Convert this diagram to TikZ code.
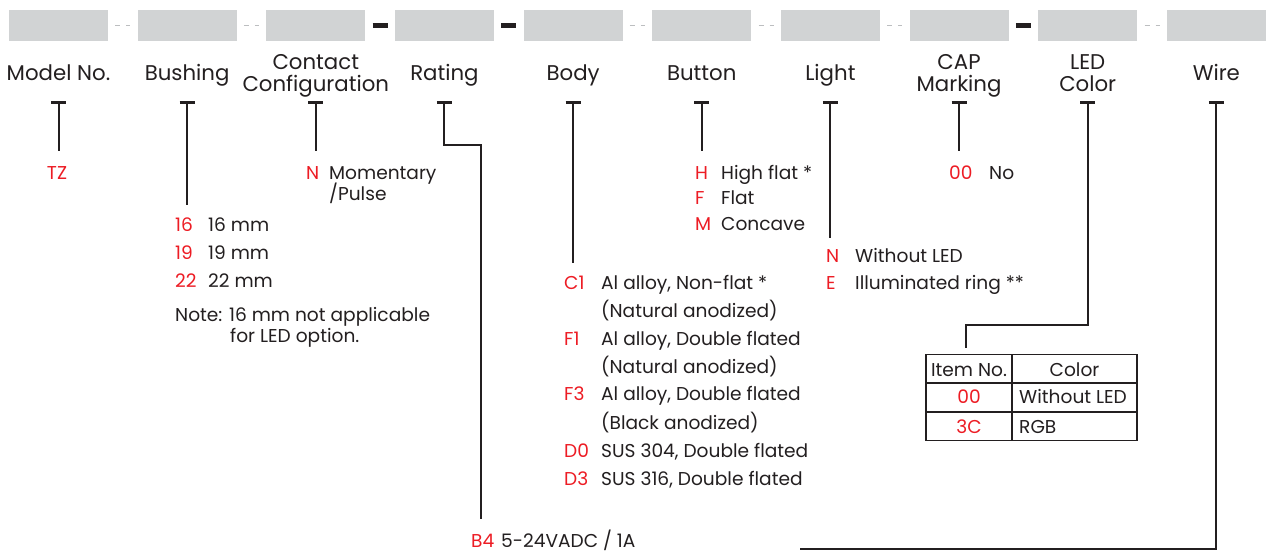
\documentclass[tikz,border=0pt]{standalone}
\usepackage{fontspec}
\setmainfont{Poppins}
\usetikzlibrary{arrows.meta,positioning,calc}
\definecolor{boxgray}{RGB}{209,211,212}
\definecolor{dashgray}{RGB}{188,190,192}
\definecolor{codered}{RGB}{237,28,36}
\definecolor{inkdark}{RGB}{35,31,32}
\newcommand{\optfont}{\fontsize{18.6}{21}\selectfont}
\tikzset{
  field/.style={fill=boxgray, draw=none, minimum width=99pt, minimum height=31pt, inner sep=0pt},
  heading/.style={font=\fontsize{21.3}{22}\selectfont, text=inkdark, align=center, inner sep=0pt, anchor=base},
  optcode/.style={font=\optfont, text=codered, anchor=base west, inner sep=0pt},
  optdesc/.style={font=\optfont, text=inkdark, anchor=base west, inner sep=0pt},
  cellmid/.style={font=\optfont, text=inkdark, anchor=base, inner sep=0pt},
  leader/.style={line width=2pt, draw=inkdark, {Bar[width=15pt,line width=3pt]}-},
  softsep/.style={draw=dashgray, line width=1.2pt, dash pattern=on 5pt off 6pt},
  hardsep/.style={draw=inkdark, line width=5pt},
}

\begin{document}
\begin{tikzpicture}[x=1pt, y=-1pt]
  \useasboundingbox[fill=white] (0,0) rectangle (1270,553);

  % code fields
  \foreach \i in {0,...,9}
    \node[field] (box\i) at ({58.5+128.65*\i}, 25.5) {};

  % separators
  \foreach \i/\kind in {0/softsep, 1/softsep, 2/hardsep, 3/hardsep, 4/softsep, 5/softsep, 6/softsep, 7/hardsep, 8/softsep}
    \draw[\kind] ({122.8+128.65*\i-7.5}, 25.5) -- ({122.8+128.65*\i+7.5}, 25.5);

  % headings
  \node[heading] (lblModel) at (58.5, 80.5) {Model No.};
  \node[heading] (lblBushing) at (187.15, 80.5) {Bushing};
  \node[heading] (lblContact) at (315.8, 92) {Contact\\Configuration};
  \node[heading] (lblRating) at (444.45, 80.5) {Rating};
  \node[heading] (lblBody) at (573.1, 80.5) {Body};
  \node[heading] (lblButton) at (701.75, 80.5) {Button};
  \node[heading] (lblLight) at (830.4, 80.5) {Light};
  \node[heading] (lblCap) at (959.05, 92) {CAP\\Marking};
  \node[heading] (lblLed) at (1087.7, 92) {LED\\Color};
  \node[heading] (lblWire) at (1216.35, 80.5) {Wire};

  % leader tops
  \foreach \n/\x in {Model/58.5, Bushing/187.15, Contact/315.8, Rating/444.45, Body/573.1, Button/701.75, Light/830.4, Cap/959.05, Led/1087.7, Wire/1216.35}
    \coordinate (tick\n) at (\x, 101);

  % Model No.
  \node[cellmid, text=codered] (optTZ) at (57, 180) {TZ};
  \coordinate (endModel) at (58.5, 151);
  \draw[leader] (tickModel) -- (endModel);

  % Bushing
  \node[optcode] (b16) at (175, 232) {16};
  \node[optdesc] at (208, 232) {16 mm};
  \node[optcode] (b19) at (175, 260) {19};
  \node[optdesc] at (208, 260) {19 mm};
  \node[optcode] (b22) at (175, 288) {22};
  \node[optdesc] at (208, 288) {22 mm};
  \node[optdesc] (note) at (175, 322) {Note: 16 mm not applicable};
  \node[optdesc] at (230, 343) {for LED option.};
  \coordinate (endBushing) at (187.15, 205);
  \draw[leader] (tickBushing) -- (endBushing);

  % Contact Configuration
  \node[optcode] (cN) at (306, 180) {N};
  \node[optdesc] at (329, 180) {Momentary};
  \node[optdesc] at (329, 201) {/Pulse};
  \coordinate (endContact) at (315.8, 151);
  \draw[leader] (tickContact) -- (endContact);

  % Rating
  \node[optcode] (rB4) at (471, 547) {B4};
  \node[optdesc] at (501, 547) {5-24VADC / 1A};
  \coordinate (bendRating) at (481, 145);
  \coordinate (endRating) at (481, 519);
  \draw[leader] (tickRating) |- (bendRating) -- (endRating);

  % Body
  \node[optcode] (bC1) at (564, 290) {C1};
  \node[optdesc] at (601, 290) {Al alloy, Non-flat *};
  \node[optdesc] at (601, 318) {(Natural anodized)};
  \node[optcode] (bF1) at (564, 346) {F1};
  \node[optdesc] at (601, 346) {Al alloy, Double flated};
  \node[optdesc] at (601, 374) {(Natural anodized)};
  \node[optcode] (bF3) at (564, 401) {F3};
  \node[optdesc] at (601, 401) {Al alloy, Double flated};
  \node[optdesc] at (601, 429) {(Black anodized)};
  \node[optcode] (bD0) at (564, 457) {D0};
  \node[optdesc] at (601, 457) {SUS 304, Double flated};
  \node[optcode] (bD3) at (564, 485) {D3};
  \node[optdesc] at (601, 485) {SUS 316, Double flated};
  \coordinate (endBody) at (573.1, 263);
  \draw[leader] (tickBody) -- (endBody);

  % Button
  \node[optcode] (tH) at (695, 180) {H};
  \node[optdesc] at (721, 180) {High flat *};
  \node[optcode] (tF) at (695, 205) {F};
  \node[optdesc] at (721, 205) {Flat};
  \node[optcode] (tM) at (695, 231) {M};
  \node[optdesc] at (721, 231) {Concave};
  \coordinate (endButton) at (701.75, 151);
  \draw[leader] (tickButton) -- (endButton);

  % Light
  \node[optcode] (lN) at (826, 263) {N};
  \node[optdesc] at (855, 263) {Without LED};
  \node[optcode] (lE) at (826, 290) {E};
  \node[optdesc] at (855, 290) {Illuminated ring **};
  \coordinate (endLight) at (830.4, 238);
  \draw[leader] (tickLight) -- (endLight);

  % CAP Marking
  \node[optcode] (c00) at (949, 180) {00};
  \node[optdesc] at (989, 180) {No};
  \coordinate (endCap) at (959.05, 151);
  \draw[leader] (tickCap) -- (endCap);

  % LED Color table
  \node[draw=inkdark, line width=1.5pt, minimum width=211pt, minimum height=86pt, inner sep=0pt] (ledTable) at (1031.5, 397.5) {};
  \draw[inkdark, line width=1.5pt] (1012, 354.5) -- (1012, 440.5);
  \draw[inkdark, line width=1.5pt] (926, 383) -- (1137, 383);
  \draw[inkdark, line width=1.5pt] (926, 412) -- (1137, 412);
  \node[cellmid] at (969, 377) {Item No.};
  \node[cellmid] at (1074.5, 377) {Color};
  \node[cellmid, text=codered] at (969, 404) {00};
  \node[optdesc] at (1019, 404) {Without LED};
  \node[cellmid, text=codered] at (969, 433) {3C};
  \node[optdesc] at (1019, 433) {RGB};
  \coordinate (bendLed) at (966, 325);
  \coordinate (endLed) at (966, 348);
  \draw[leader] (tickLed) |- (bendLed) -- (endLed);

  % Wire
  \coordinate (bendWire) at (1216.35, 549);
  \coordinate (endWire) at (800, 549);
  \draw[leader] (tickWire) -- (bendWire) -- (endWire);
\end{tikzpicture}
\end{document}
